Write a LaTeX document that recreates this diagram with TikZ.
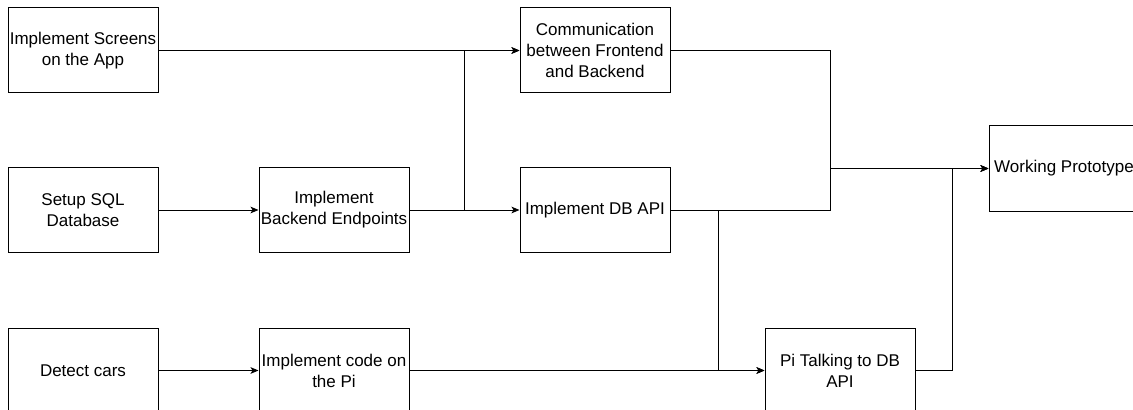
\documentclass[tikz,border=0pt]{standalone}
\usepackage{fontspec}
\setmainfont{Liberation Sans}
\usetikzlibrary{arrows.meta}
\begin{document}
\begin{tikzpicture}[x=0.75pt,y=-0.75pt,
  task/.style={draw=black,line width=0.75pt,rectangle,minimum width=112.5pt,minimum height=63.75pt,
    inner sep=0pt,align=center,font=\fontsize{12.75pt}{15.75pt}\selectfont},
  link/.style={draw=black,line width=0.75pt},
  arr/.style={link,-{Stealth[length=6pt,width=5pt,inset=1.5pt]}}]
\useasboundingbox (0,0) rectangle (1133,410);
\clip (0,0) rectangle (1133,410);
\node[task] (A) at (83,50.5) {Implement Screens\\on the App};
\node[task] (B) at (83,210) {Setup SQL\\Database};
\node[task] (C) at (83,370.5) {Detect cars};
\node[task] (D) at (334,210) {Implement\\Backend Endpoints};
\node[task] (E) at (334,370.5) {Implement code on\\the Pi};
\node[task] (F) at (595,50.5) {Communication\\between Frontend\\and Backend};
\node[task] (G) at (595,210) {Implement DB API};
\node[task] (H) at (840,370.5) {Pi Talking to DB\\API};
\node[task] (I) at (1064,168.5) {Working Prototype};
\coordinate (m) at (830,168.5);
\draw[arr] (A.east) -- (F.west);
\draw[arr] (B.east) -- (D.west);
\draw[arr] (C.east) -- (E.west);
\draw[arr] (D.east) -- (G.west);
\draw[arr] (D.east) -- ++(55,0) |- (F.west);
\draw[arr] (E.east) -- (H.west);
\draw[arr] (G.east) -- ++(48,0) |- (H.west);
\draw[arr] (F.east) -| (m) -- (I.west);
\draw[arr] (G.east) -| (m) -- (I.west);
\draw[arr] (H.east) -- ++(37,0) |- (I.west);
\end{tikzpicture}
\end{document}
